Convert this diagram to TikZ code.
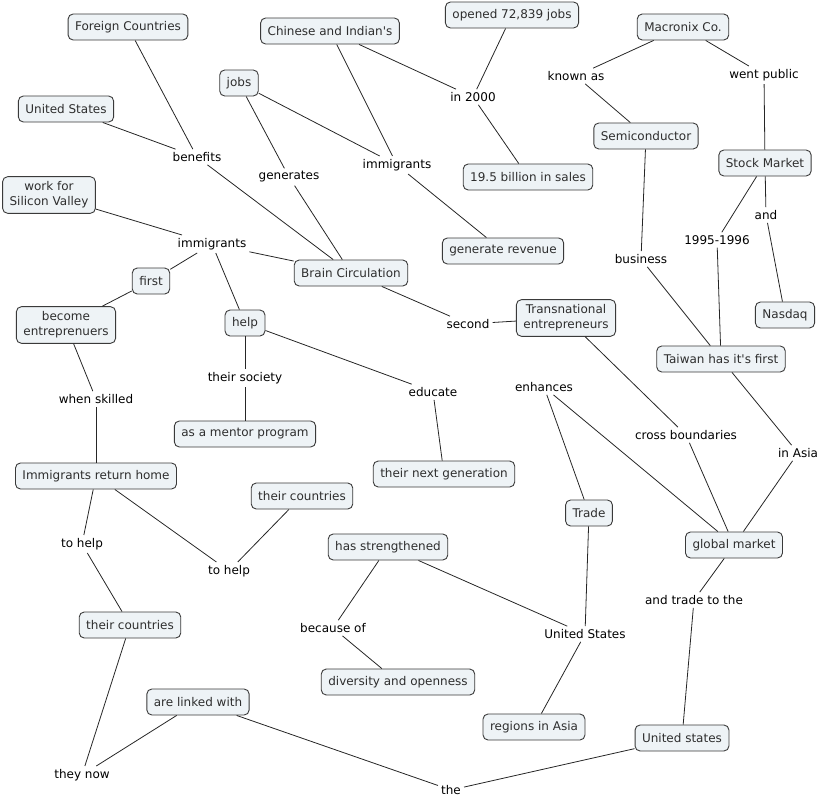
\documentclass[tikz,border=0pt]{standalone}
\usepackage{fontspec}
\setmainfont{DejaVu Sans}
\usepackage{tikz}
\usetikzlibrary{positioning}

\definecolor{conceptfill}{HTML}{EEF3F6}
\definecolor{conceptdraw}{HTML}{3A3A3A}
\definecolor{conceptText}{HTML}{2E2E2E}

\begin{document}
\begin{tikzpicture}[x=1pt, y=-1pt, font=\fontsize{12}{15}\selectfont]
        % Style definitions
        \tikzstyle{concept} = [draw=conceptdraw, fill=conceptfill, rectangle, rounded corners=5pt, line width=0.9pt, minimum height=26pt, inner xsep=7pt, inner ysep=5pt, align=center, text=conceptText]
        \tikzstyle{phrase} = [rectangle, inner sep=3pt, text=black]
        \tikzstyle{link} = [draw, line width=0.8pt, black!85]

        \useasboundingbox (0,0) rectangle (823,798);

        % Concepts
        \node [concept] (fc) at (128,27) {Foreign Countries};
        \node [concept] (chinese) at (330,31) {Chinese and Indian\textquotesingle s};
        \node [concept] (opened) at (512,15) {opened 72,839 jobs};
        \node [concept] (macronix) at (683,27) {Macronix Co.};
        \node [concept] (jobs) at (239,83) {jobs};
        \node [concept] (us) at (66,109) {United States};
        \node [concept] (semi) at (646,136) {Semiconductor};
        \node [concept] (stock) at (765,163) {Stock Market};
        \node [concept] (sales) at (528,177) {19.5 billion in sales};
        \node [concept] (work) at (49,195) {work for\\Silicon Valley};
        \node [concept] (revenue) at (503,251) {generate revenue};
        \node [concept] (brain) at (351,273) {Brain Circulation};
        \node [concept] (first) at (151,281) {first};
        \node [concept] (become) at (66,325) {become\\entreprenuers};
        \node [concept] (help) at (245,323) {help};
        \node [concept] (trans) at (566,318) {Transnational\\entrepreneurs};
        \node [concept] (nasdaq) at (785,315) {Nasdaq};
        \node [concept] (taiwan) at (721,359) {Taiwan has it\textquotesingle s first};
        \node [concept] (mentor) at (245,434) {as a mentor program};
        \node [concept] (nextgen) at (444,474) {their next generation};
        \node [concept] (returnhome) at (96,476) {Immigrants return home};
        \node [concept] (countriesR) at (302,496) {their countries};
        \node [concept] (trade) at (589,513) {Trade};
        \node [concept] (global) at (734,545) {global market};
        \node [concept] (strength) at (388,547) {has strengthened};
        \node [concept] (countriesL) at (130,625) {their countries};
        \node [concept] (diversity) at (398,682) {diversity and openness};
        \node [concept] (linked) at (198,702) {are linked with};
        \node [concept] (asia) at (534,727) {regions in Asia};
        \node [concept] (ustates) at (682,738) {United states};

        % Linking phrases
        \node [phrase] (benefits) at (197,157) {benefits};
        \node [phrase] (generates) at (289,177) {generates};
        \node [phrase] (immtop) at (397,165) {immigrants};
        \node [phrase] (in2000) at (473,97) {in 2000};
        \node [phrase] (knownas) at (576,76) {known as};
        \node [phrase] (public) at (764,75) {went public};
        \node [phrase] (immmid) at (212,244) {immigrants};
        \node [phrase] (and) at (766,215) {and};
        \node [phrase] (years) at (717,240) {1995-1996};
        \node [phrase] (business) at (641,259) {business};
        \node [phrase] (second) at (468,324) {second};
        \node [phrase] (society) at (245,378) {their society};
        \node [phrase] (educate) at (433,392) {educate};
        \node [phrase] (enhances) at (544,387) {enhances};
        \node [phrase] (skilled) at (96,399) {when skilled};
        \node [phrase] (cross) at (686,435) {cross boundaries};
        \node [phrase] (inasia) at (798,453) {in Asia};
        \node [phrase] (helpL) at (82,544) {to help};
        \node [phrase] (helpR) at (229,571) {to help};
        \node [phrase] (tradeto) at (694,600) {and trade to the};
        \node [phrase] (because) at (333,628) {because of};
        \node [phrase] (usmid) at (585,634) {United States};
        \node [phrase] (theynow) at (82,775) {they now};
        \node [phrase] (the) at (451,790) {the};

        % Connections
        \draw [link] (fc) -- (benefits);
        \draw [link] (us) -- (benefits);
        \draw [link] (benefits) -- (brain);
        \draw [link] (jobs) -- (generates);
        \draw [link] (generates) -- (brain);
        \draw [link] (jobs) -- (immtop);
        \draw [link] (chinese) -- (immtop);
        \draw [link] (immtop) -- (revenue);
        \draw [link] (chinese) -- (in2000);
        \draw [link] (opened) -- (in2000);
        \draw [link] (in2000) -- (sales);
        \draw [link] (macronix) -- (knownas);
        \draw [link] (knownas) -- (semi);
        \draw [link] (macronix) -- (public);
        \draw [link] (public) -- (stock);
        \draw [link] (stock) -- (and);
        \draw [link] (and) -- (nasdaq);
        \draw [link] (stock) -- (years);
        \draw [link] (years) -- (taiwan);
        \draw [link] (semi) -- (business);
        \draw [link] (business) -- (taiwan);
        \draw [link] (work) -- (immmid);
        \draw [link] (immmid) -- (brain);
        \draw [link] (immmid) -- (first);
        \draw [link] (immmid) -- (help);
        \draw [link] (first) -- (become);
        \draw [link] (become) -- (skilled);
        \draw [link] (skilled) -- (returnhome);
        \draw [link] (help) -- (society);
        \draw [link] (society) -- (mentor);
        \draw [link] (help) -- (educate);
        \draw [link] (educate) -- (nextgen);
        \draw [link] (brain) -- (second);
        \draw [link] (second) -- (trans);
        \draw [link] (trans) -- (cross);
        \draw [link] (cross) -- (global);
        \draw [link] (enhances) -- (trade);
        \draw [link] (enhances) -- (global);
        \draw [link] (taiwan) -- (inasia);
        \draw [link] (inasia) -- (global);
        \draw [link] (returnhome) -- (helpL);
        \draw [link] (helpL) -- (countriesL);
        \draw [link] (returnhome) -- (helpR);
        \draw [link] (helpR) -- (countriesR);
        \draw [link] (countriesL) -- (theynow);
        \draw [link] (theynow) -- (linked);
        \draw [link] (linked) -- (the);
        \draw [link] (the) -- (ustates);
        \draw [link] (global) -- (tradeto);
        \draw [link] (tradeto) -- (ustates);
        \draw [link] (strength) -- (because);
        \draw [link] (because) -- (diversity);
        \draw [link] (strength) -- (usmid);
        \draw [link] (trade) -- (usmid);
        \draw [link] (usmid) -- (asia);
    \end{tikzpicture}
\end{document}
